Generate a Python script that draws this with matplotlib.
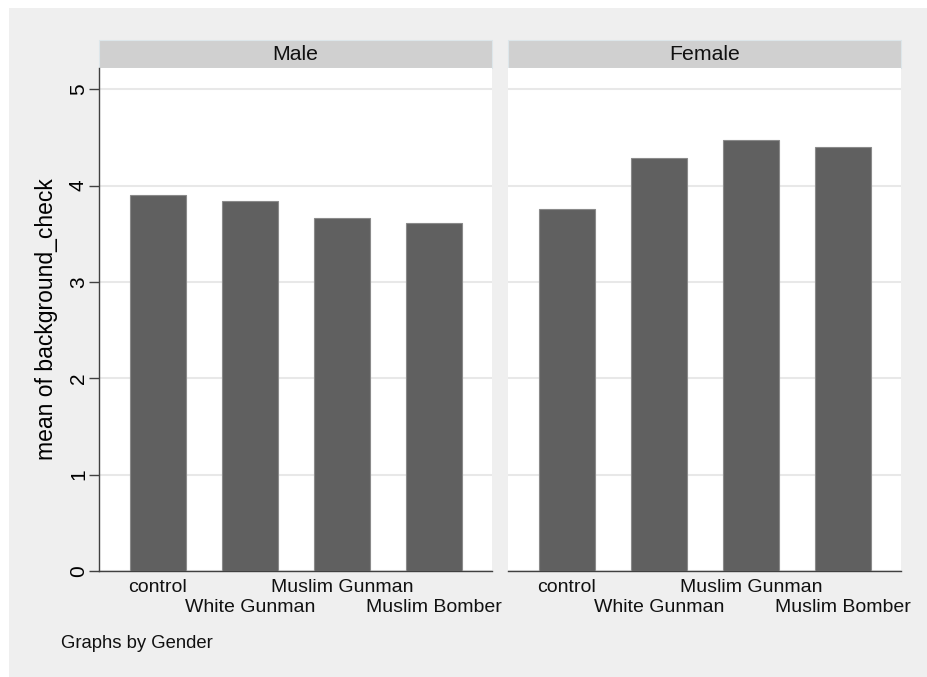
import matplotlib
matplotlib.use("Agg")
import matplotlib.pyplot as plt
from matplotlib.patches import Rectangle
from matplotlib.transforms import offset_copy

plt.rcParams["font.family"] = ["Liberation Sans", "DejaVu Sans"]

groups = ["control", "White Gunman", "Muslim Gunman", "Muslim Bomber"]
panels = ["Male", "Female"]
male_means = [3.90, 3.84, 3.66, 3.61]
female_means = [3.76, 4.29, 4.47, 4.40]
yticks = [0, 1, 2, 3, 4, 5]

W, H = 927, 677
fig = plt.figure(figsize=(W / 100, H / 100), dpi=100)
fig.patch.set_facecolor("white")

# stata-style gray outer region
fig.patches.append(Rectangle((9 / W, 0), 1 - 9 / W, 1 - 8 / H, transform=fig.transFigure,
                             facecolor="#efefef", edgecolor="none", zorder=-5))

bottom = 1 - 571 / H
height = (571 - 68) / H
lefts = [99, 508]
width_px = 393

for i, (name, vals) in enumerate(zip(panels, [male_means, female_means])):
    ax = fig.add_axes([lefts[i] / W, bottom, width_px / W, height])
    ax.set_facecolor("white")
    x = list(range(len(groups)))
    ax.bar(x, vals, width=0.61, color="#606060", edgecolor="#8a8a8a", linewidth=0.8, zorder=3)
    ax.set_xlim(-0.64, 3.63)
    ax.set_ylim(0, 5.22)
    ax.set_yticks(yticks)
    ax.grid(axis="y", color="#e8e8e8", linewidth=1.5, zorder=0)
    for s in ["top", "right"]:
        ax.spines[s].set_visible(False)
    ax.spines["bottom"].set_color("#404040")
    ax.spines["bottom"].set_linewidth(1.0)
    ax.set_xticks([])
    # staggered category labels
    for j, g in enumerate(groups):
        off = -17 if j % 2 == 0 else -37
        tr = offset_copy(ax.get_xaxis_transform(), fig=fig, y=off, units="dots")
        ax.text(j, 0, g, transform=tr, ha="center", va="center", fontsize=14, color="#111111")
    if i == 0:
        ax.spines["left"].set_color("#404040")
        ax.spines["left"].set_linewidth(1.0)
        ax.tick_params(axis="y", length=7, width=1, color="#404040", labelsize=15, pad=1)
        for lab in ax.get_yticklabels():
            lab.set_rotation(90)
            lab.set_va("center")
        ax.set_ylabel("mean of background_check", fontsize=16.5)
        ax.yaxis.set_label_coords(-0.105, 0.5)
    else:
        ax.spines["left"].set_visible(False)
        ax.tick_params(axis="y", length=0, labelleft=False)

    # panel header strip
    fig.patches.append(Rectangle((lefts[i] / W, 1 - 68 / H), width_px / W, 28 / H,
                                 transform=fig.transFigure, facecolor="#d0d0d0",
                                 edgecolor="#dde6ea", linewidth=0.8, zorder=-1))
    fig.text((lefts[i] + width_px / 2) / W, 1 - 54 / H, name, ha="center", va="center",
             fontsize=15.3, color="#111111")

fig.text(61 / W, 1 - 643 / H, "Graphs by Gender", ha="left", va="center", fontsize=13.3, color="#111111")

fig.savefig("out.png", dpi=100, facecolor=fig.get_facecolor())
